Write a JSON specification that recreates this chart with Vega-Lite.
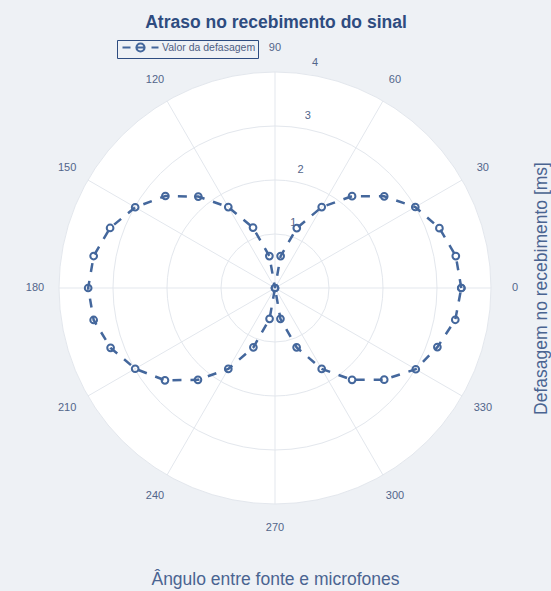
{
  "$schema": "https://vega.github.io/schema/vega-lite/v6.json",
  "width": 520,
  "height": 520,
  "autosize": {"type": "none"},
  "padding": {"left": 0, "top": 40, "right": 31, "bottom": 31},
  "background": "#eef1f5",
  "config": {
    "view": {"stroke": null},
    "font": "Liberation Sans",
    "axis": {
      "labels": false, "ticks": false, "domain": false, "grid": false,
      "titleFontSize": 17.5, "titleFontWeight": "normal", "titleColor": "#4a6491"
    }
  },
  "title": {
    "text": "Atraso no recebimento do sinal",
    "fontSize": 17.5,
    "fontWeight": "bold",
    "color": "#2e4c80",
    "anchor": "middle",
    "frame": "group",
    "dx": 16,
    "offset": -6,
    "baseline": "alphabetic"
  },
  "datasets": {
    "disc": [{"r": 4}],
    "rings": [{"r": 1}, {"r": 2}, {"r": 3}, {"r": 4}],
    "spokes": [
      {"angle": 0}, {"angle": 30}, {"angle": 60}, {"angle": 90},
      {"angle": 120}, {"angle": 150}, {"angle": 180}, {"angle": 210},
      {"angle": 240}, {"angle": 270}, {"angle": 300}, {"angle": 330}
    ],
    "delay": [
      {"angle": 0, "delay": 3.45},
      {"angle": 10, "delay": 3.40},
      {"angle": 20, "delay": 3.24},
      {"angle": 30, "delay": 3.00},
      {"angle": 40, "delay": 2.64},
      {"angle": 50, "delay": 2.22},
      {"angle": 60, "delay": 1.73},
      {"angle": 70, "delay": 1.18},
      {"angle": 80, "delay": 0.60},
      {"angle": 90, "delay": 0.00},
      {"angle": 100, "delay": 0.60},
      {"angle": 110, "delay": 1.19},
      {"angle": 120, "delay": 1.73},
      {"angle": 130, "delay": 2.21},
      {"angle": 140, "delay": 2.65},
      {"angle": 150, "delay": 2.99},
      {"angle": 160, "delay": 3.25},
      {"angle": 170, "delay": 3.41},
      {"angle": 180, "delay": 3.46},
      {"angle": 190, "delay": 3.41},
      {"angle": 200, "delay": 3.24},
      {"angle": 210, "delay": 2.99},
      {"angle": 220, "delay": 2.66},
      {"angle": 230, "delay": 2.22},
      {"angle": 240, "delay": 1.73},
      {"angle": 250, "delay": 1.17},
      {"angle": 260, "delay": 0.58},
      {"angle": 270, "delay": 0.00},
      {"angle": 280, "delay": 0.58},
      {"angle": 290, "delay": 1.17},
      {"angle": 300, "delay": 1.73},
      {"angle": 310, "delay": 2.22},
      {"angle": 320, "delay": 2.64},
      {"angle": 330, "delay": 3.01},
      {"angle": 340, "delay": 3.20},
      {"angle": 350, "delay": 3.39},
      {"angle": 360, "delay": 3.45}
    ]
  },
  "layer": [
    {
      "data": {"name": "disc"},
      "transform": [
        {"calculate": "0", "as": "cx"},
        {"calculate": "0", "as": "cy"}
      ],
      "mark": {"type": "arc", "fill": "#ffffff", "theta": 0, "theta2": 6.2832},
      "encoding": {
        "x": {"field": "cx", "type": "quantitative", "scale": {"domain": [-5.09259, 4.53704], "nice": false, "zero": false},
              "title": "Ângulo entre fonte e microfones", "axis": {"orient": "bottom", "titlePadding": 10, "titleX": 275}},
        "y": {"field": "cy", "type": "quantitative", "scale": {"domain": [-5.03704, 4.59259], "nice": false, "zero": false},
              "title": "Defasagem no recebimento [ms]", "axis": {"orient": "right", "titleAngle": 270, "titleBaseline": "top", "titlePadding": 12, "titleY": 248}},
        "radius": {"field": "r", "type": "quantitative", "stack": null, "scale": {"type": "linear", "domain": [0, 4], "range": [0, 216], "zero": true}}
      }
    },
    {
      "data": {"name": "spokes"},
      "transform": [
        {"calculate": "0", "as": "cx"},
        {"calculate": "0", "as": "cy"},
        {"calculate": "4 * cos(datum.angle * PI / 180)", "as": "ex"},
        {"calculate": "4 * sin(datum.angle * PI / 180)", "as": "ey"}
      ],
      "mark": {"type": "rule", "stroke": "#e3e7ed", "strokeWidth": 1},
      "encoding": {
        "x": {"field": "cx", "type": "quantitative", "scale": {"domain": [-5.09259, 4.53704], "nice": false, "zero": false},
              "title": "Ângulo entre fonte e microfones", "axis": {"orient": "bottom", "titlePadding": 10, "titleX": 275}},
        "y": {"field": "cy", "type": "quantitative", "scale": {"domain": [-5.03704, 4.59259], "nice": false, "zero": false},
              "title": "Defasagem no recebimento [ms]", "axis": {"orient": "right", "titleAngle": 270, "titleBaseline": "top", "titlePadding": 12, "titleY": 248}},
        "x2": {"field": "ex"},
        "y2": {"field": "ey"}
      }
    },
    {
      "data": {"name": "rings"},
      "transform": [
        {"calculate": "0", "as": "cx"},
        {"calculate": "0", "as": "cy"}
      ],
      "mark": {"type": "arc", "filled": false, "stroke": "#e3e7ed", "strokeWidth": 1, "theta": 0, "theta2": 6.2832},
      "encoding": {
        "x": {"field": "cx", "type": "quantitative", "scale": {"domain": [-5.09259, 4.53704], "nice": false, "zero": false},
              "title": "Ângulo entre fonte e microfones", "axis": {"orient": "bottom", "titlePadding": 10, "titleX": 275}},
        "y": {"field": "cy", "type": "quantitative", "scale": {"domain": [-5.03704, 4.59259], "nice": false, "zero": false},
              "title": "Defasagem no recebimento [ms]", "axis": {"orient": "right", "titleAngle": 270, "titleBaseline": "top", "titlePadding": 12, "titleY": 248}},
        "radius": {"field": "r", "type": "quantitative", "stack": null, "scale": {"type": "linear", "domain": [0, 4], "range": [0, 216], "zero": true}}
      }
    },
    {
      "data": {"name": "delay"},
      "transform": [
        {"calculate": "datum.delay * cos(datum.angle * PI / 180)", "as": "px"},
        {"calculate": "datum.delay * sin(datum.angle * PI / 180)", "as": "py"}
      ],
      "mark": {"type": "line", "stroke": "#44679c", "strokeWidth": 2.5, "strokeDash": [9, 9]},
      "encoding": {
        "x": {"field": "px", "type": "quantitative", "scale": {"domain": [-5.09259, 4.53704], "nice": false, "zero": false},
              "title": "Ângulo entre fonte e microfones", "axis": {"orient": "bottom", "titlePadding": 10, "titleX": 275}},
        "y": {"field": "py", "type": "quantitative", "scale": {"domain": [-5.03704, 4.59259], "nice": false, "zero": false},
              "title": "Defasagem no recebimento [ms]", "axis": {"orient": "right", "titleAngle": 270, "titleBaseline": "top", "titlePadding": 12, "titleY": 248}},
        "order": {"field": "angle", "type": "quantitative"}
      }
    },
    {
      "data": {"name": "delay"},
      "transform": [
        {"calculate": "datum.delay * cos(datum.angle * PI / 180)", "as": "px"},
        {"calculate": "datum.delay * sin(datum.angle * PI / 180)", "as": "py"},
        {"calculate": "'Valor da defasagem'", "as": "series"}
      ],
      "mark": {"type": "point", "filled": false, "strokeWidth": 2, "size": 45, "opacity": 1},
      "encoding": {
        "x": {"field": "px", "type": "quantitative", "scale": {"domain": [-5.09259, 4.53704], "nice": false, "zero": false},
              "title": "Ângulo entre fonte e microfones", "axis": {"orient": "bottom", "titlePadding": 10, "titleX": 275}},
        "y": {"field": "py", "type": "quantitative", "scale": {"domain": [-5.03704, 4.59259], "nice": false, "zero": false},
              "title": "Defasagem no recebimento [ms]", "axis": {"orient": "right", "titleAngle": 270, "titleBaseline": "top", "titlePadding": 12, "titleY": 248}},
        "color": {
          "field": "series",
          "type": "nominal",
          "scale": {"domain": ["Valor da defasagem"], "range": ["#44679c"]},
          "legend": {
            "orient": "none", "legendX": 117, "legendY": 0,
            "title": null,
            "symbolType": "M-4.5,0L-2.5,0M-1,0L1,0M2.75,0L4.5,0M-1,0A1,1,0,1,0,1,0A1,1,0,1,0,-1,0Z",
            "symbolSize": 64,
            "symbolStrokeWidth": 2.2,
            "symbolOffset": 16,
            "labelOffset": 16,
            "labelFontSize": 10.5,
            "labelColor": "#4e6084",
            "strokeColor": "#2e4c80",
            "padding": 2
          }
        }
      }
    },
    {
      "data": {"name": "spokes"},
      "transform": [
        {"calculate": "4.444 * cos(datum.angle * PI / 180)", "as": "lx"},
        {"calculate": "4.444 * sin(datum.angle * PI / 180)", "as": "ly"}
      ],
      "mark": {"type": "text", "fontSize": 11, "fill": "#52658a", "align": "center", "baseline": "middle"},
      "encoding": {
        "x": {"field": "lx", "type": "quantitative", "scale": {"domain": [-5.09259, 4.53704], "nice": false, "zero": false},
              "title": "Ângulo entre fonte e microfones", "axis": {"orient": "bottom", "titlePadding": 10, "titleX": 275}},
        "y": {"field": "ly", "type": "quantitative", "scale": {"domain": [-5.03704, 4.59259], "nice": false, "zero": false},
              "title": "Defasagem no recebimento [ms]", "axis": {"orient": "right", "titleAngle": 270, "titleBaseline": "top", "titlePadding": 12, "titleY": 248}},
        "text": {"field": "angle", "type": "nominal"}
      }
    },
    {
      "data": {"name": "rings"},
      "transform": [
        {"calculate": "datum.r * cos(82.3 * PI / 180)", "as": "lx"},
        {"calculate": "datum.r * sin(82.3 * PI / 180)", "as": "ly"}
      ],
      "mark": {"type": "text", "fontSize": 11, "fill": "#52658a", "align": "center", "baseline": "middle", "dx": 11, "dy": -11},
      "encoding": {
        "x": {"field": "lx", "type": "quantitative", "scale": {"domain": [-5.09259, 4.53704], "nice": false, "zero": false},
              "title": "Ângulo entre fonte e microfones", "axis": {"orient": "bottom", "titlePadding": 10, "titleX": 275}},
        "y": {"field": "ly", "type": "quantitative", "scale": {"domain": [-5.03704, 4.59259], "nice": false, "zero": false},
              "title": "Defasagem no recebimento [ms]", "axis": {"orient": "right", "titleAngle": 270, "titleBaseline": "top", "titlePadding": 12, "titleY": 248}},
        "text": {"field": "r", "type": "nominal"}
      }
    }
  ]
}
